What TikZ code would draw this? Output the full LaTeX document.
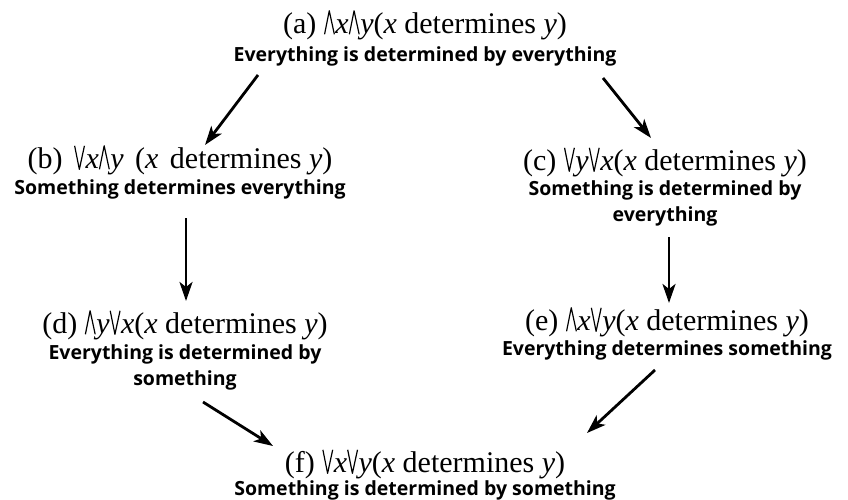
\documentclass[tikz,border=0pt]{standalone}
\usepackage{fontspec}
\usetikzlibrary{arrows.meta}
\setmainfont{Liberation Serif}
\newfontfamily\glossfont{Open Sans}

% tall thin quantifier signs sitting on the baseline
\newcommand\qall{\tikz[x=1pt,y=1pt,baseline=0pt,line width=1.2pt,line join=round]
  \draw (0,-0.5) -- (4.7,23) -- (9.8,-0.5);\kern0.5pt}
\newcommand\qsome{\tikz[x=1pt,y=1pt,baseline=0pt,line width=1.2pt,line join=round]
  \draw (0,23) -- (4.7,-0.5) -- (9.8,23);\kern0.5pt}
\newcommand\formline[1]{{\rmfamily\mdseries\fontsize{30}{25}\selectfont #1}}
\newcommand\vx{\textit{x}}
\newcommand\vy{\textit{y}}
\newcommand\wsp{\hspace{4pt}}

\tikzset{
  prop/.style={align=center, inner sep=0pt, anchor=north,
    font=\glossfont\bfseries\fontsize{19.5}{26}\selectfont},
  arr/.style={-{Stealth[length=19pt,width=13pt,inset=5pt]}, line width=2.8pt},
}

\begin{document}
\begin{tikzpicture}[x=1pt,y=-1pt]
\useasboundingbox[fill=white] (0,0) rectangle (848,500);

\node[prop] (a) at (425,10)
  {\formline{(a) \qall\vx\qall\vy(\vx\ determines \vy)}\\[2pt]
   Everything is determined by everything};
\node[prop] (b) at (180,145)
  {\formline{(b)\wsp\ \qsome\vx\qall\vy\wsp\ (\vx\wsp\ determines \vy)}\\[0pt]
   Something determines everything};
\node[prop] (c) at (665,147)
  {\formline{(c) \qsome\vy\qsome\vx(\vx\ determines \vy)}\\[-1pt]
   Something is determined by\\ everything};
\node[prop] (d) at (185,310)
  {\formline{(d) \qall\vy\qsome\vx(\vx\ determines \vy)}\\[0pt]
   Everything is determined by\\ something};
\node[prop] (e) at (667,307)
  {\formline{(e) \qall\vx\qsome\vy(\vx\ determines \vy)}\\[-1pt]
   Everything determines something};
\node[prop] (f) at (425,449)
  {\formline{(f) \qsome\vx\qsome\vy(\vx\ determines \vy)}\\[-3pt]
   Something is determined by something};

% arrow ends between the propositions
\coordinate (a-left)  at (258,75);
\coordinate (b-top)   at (205,145);
\coordinate (a-right) at (603,78);
\coordinate (c-top)   at (651,138);
\coordinate (b-low)   at (186,218);
\coordinate (d-top)   at (186,301);
\coordinate (c-low)   at (669,237);
\coordinate (e-top)   at (669,303);
\coordinate (d-low)   at (203,402);
\coordinate (f-left)  at (273,446);
\coordinate (e-low)   at (655,370);
\coordinate (f-right) at (587,433);

\draw[arr] (a-left)  -- (b-top);
\draw[arr] (a-right) -- (c-top);
\draw[arr] (b-low)   -- (d-top);
\draw[arr] (c-low)   -- (e-top);
\draw[arr] (d-low)   -- (f-left);
\draw[arr] (e-low)   -- (f-right);
\end{tikzpicture}
\end{document}
